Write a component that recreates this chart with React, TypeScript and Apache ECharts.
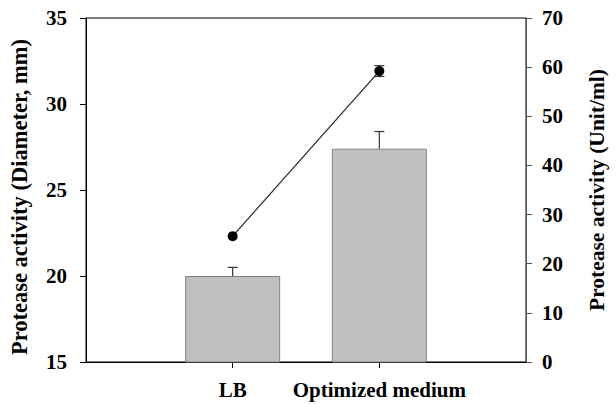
import React, { useEffect, useRef } from "react";
import * as echarts from "echarts";

const categories = ["", "LB", "Optimized medium", ""];
const diameterValues = [null, 20.0, 27.4, null];
const diameterErrors = [0, 0.5, 1.0, 0];
const unitValues = [null, 25.6, 59.2, null];
const unitErrors = [0, 0, 1.1, 0];
const leftTicks = [15, 35, 5];
const rightTicks = [0, 70, 10];

const FONT = "'Liberation Serif', 'Times New Roman', serif";

export default function App() {
  const ref = useRef<HTMLDivElement>(null);
  useEffect(() => {
    const chart = echarts.init(ref.current!, undefined, { renderer: "svg" });
    const barErr = categories
      .map((c, i) => (diameterValues[i] == null ? null : [i, diameterValues[i], diameterErrors[i]]))
      .filter((d) => d) as number[][];
    const lineErr = categories
      .map((c, i) => (unitValues[i] == null || !unitErrors[i] ? null : [i, unitValues[i], unitErrors[i]]))
      .filter((d) => d) as number[][];
    const errRender = (down: boolean) => (params: any, api: any) => {
      const x = api.value(0);
      const v = api.value(1);
      const e = api.value(2);
      const top = api.coord([x, v + e]);
      const bot = api.coord([x, down ? v - e : v]);
      const half = 5;
      const children: any[] = [
        { type: "line", shape: { x1: top[0], y1: top[1], x2: bot[0], y2: bot[1] }, style: { stroke: "#333", lineWidth: 1.2 } },
        { type: "line", shape: { x1: top[0] - half, y1: top[1], x2: top[0] + half, y2: top[1] }, style: { stroke: "#333", lineWidth: 1.2 } },
      ];
      if (down) {
        children.push({ type: "line", shape: { x1: bot[0] - half, y1: bot[1], x2: bot[0] + half, y2: bot[1] }, style: { stroke: "#333", lineWidth: 1.2 } });
      }
      return { type: "group", children };
    };
    chart.setOption({
      animation: false,
      grid: { left: 73, right: 69, top: 18, bottom: 42, show: true, borderColor: "#000", borderWidth: 1 },
      xAxis: {
        type: "category",
        data: categories,
        boundaryGap: false,
        axisLine: { lineStyle: { color: "#000", width: 1 } },
        axisTick: { show: true, length: 6, interval: (i: number) => categories[i] !== "", lineStyle: { color: "#000" } },
        axisLabel: { margin: 17, fontFamily: FONT, fontWeight: "bold", fontSize: 21, color: "#000", interval: 0 },
        splitLine: { show: false },
      },
      yAxis: [
        {
          type: "value",
          min: leftTicks[0],
          max: leftTicks[1],
          interval: leftTicks[2],
          name: "Protease activity (Diameter, mm)",
          nameLocation: "middle",
          nameGap: 55,
          nameTextStyle: { fontFamily: FONT, fontWeight: "bold", fontSize: 22.5, color: "#000", padding: [0, 14, 0, 0] },
          axisLine: { show: true, lineStyle: { color: "#000" } },
          axisTick: { show: true, length: 6, lineStyle: { color: "#000" } },
          axisLabel: { margin: 19, fontFamily: FONT, fontWeight: "bold", fontSize: 21, color: "#000" },
          splitLine: { show: false },
        },
        {
          type: "value",
          position: "right",
          min: rightTicks[0],
          max: rightTicks[1],
          interval: rightTicks[2],
          name: "Protease activity (Unit/ml)",
          nameLocation: "middle",
          nameRotate: 90,
          nameGap: 60,
          nameTextStyle: { fontFamily: FONT, fontWeight: "bold", fontSize: 21.5, color: "#000" },
          axisLine: { show: true, lineStyle: { color: "#555" } },
          axisTick: { show: true, length: 6, lineStyle: { color: "#555" } },
          axisLabel: { margin: 16, fontFamily: FONT, fontWeight: "bold", fontSize: 21, color: "#000" },
          splitLine: { show: false },
        },
      ],
      series: [
        {
          type: "bar",
          data: diameterValues,
          barWidth: 95,
          yAxisIndex: 0,
          itemStyle: { color: "#c0c0c0", borderColor: "#808080", borderWidth: 1 },
        },
        {
          type: "custom",
          yAxisIndex: 0,
          data: barErr,
          renderItem: errRender(false),
          z: 3,
        },
        {
          type: "line",
          yAxisIndex: 1,
          data: unitValues,
          symbol: "circle",
          symbolSize: 10,
          itemStyle: { color: "#000" },
          lineStyle: { color: "#222", width: 1.2 },
          z: 5,
        },
        {
          type: "custom",
          yAxisIndex: 1,
          data: lineErr,
          renderItem: errRender(true),
          z: 4,
        },
      ],
    });
    return () => chart.dispose();
  }, []);
  return <div ref={ref} style={{ width: 616, height: 404, position: "absolute", left: 0, top: 0 }} />;
}
